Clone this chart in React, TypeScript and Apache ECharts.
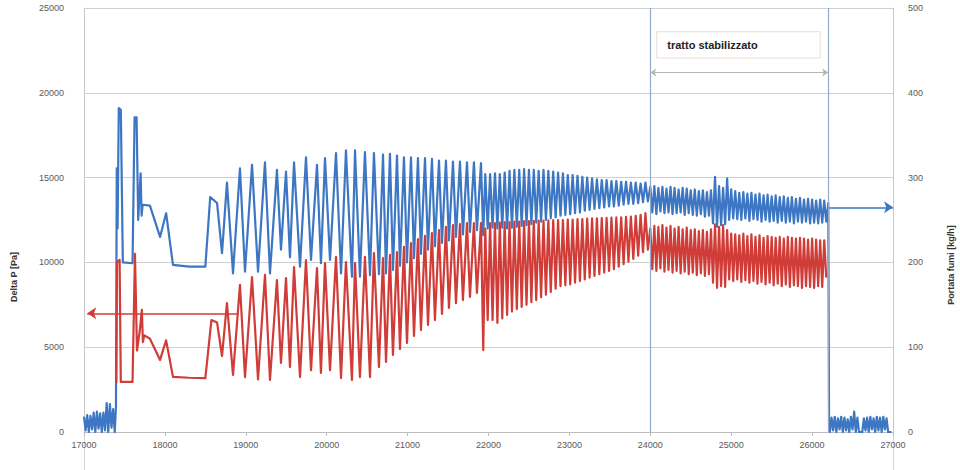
import React, { useEffect, useRef } from "react";
import * as echarts from "echarts";

// x = time index, left axis = Delta P [Pa], right axis = Portata fumi [kg/h]
const xMin = 17000;
const xMax = 27000;
const xStep = 1000;
const dpMax = 25000;
const dpStep = 5000;
const flowMax = 500;
const flowStep = 100;

const stableStart = 24000;
const stableEnd = 26200;
const stableLabel = "tratto stabilizzato";
const leftName = "Delta P [Pa]";
const rightName = "Portata fumi [kg/h]";

// ---- Portata fumi (blue, right axis) ----
const flowIdle: [number, number][] = [
  [17000, 18], [17020, 2], [17040, 20], [17060, 0], [17080, 19], [17100, 3],
  [17120, 23], [17140, 0], [17160, 24], [17180, 4], [17200, 22], [17220, 0],
  [17240, 23], [17260, 2], [17280, 34], [17300, 0], [17320, 33], [17340, 5],
  [17360, 27], [17380, 0], [17395, 30],
];

const flowStartup: [number, number][] = [
  [17405, 311], [17415, 240], [17430, 382], [17455, 380], [17480, 200],
  [17600, 199], [17625, 371], [17650, 371], [17670, 250], [17700, 305],
  [17712, 255], [17725, 268], [17815, 267], [17940, 230], [18015, 258],
  [18100, 197], [18300, 195], [18500, 195], [18560, 277], [18645, 270],
];

const flowSwing: [number, number][] = [
  [18706, 211], [18767, 294], [18842, 187], [18928, 311], [18990, 189],
  [19077, 315], [19151, 189], [19237, 318], [19299, 187], [19385, 309],
  [19435, 215], [19497, 307], [19546, 206], [19596, 318], [19670, 195],
  [19744, 324], [19806, 203], [19880, 315], [19929, 199], [19979, 323],
  [20041, 203], [20115, 329], [20177, 187], [20238, 332], [20312, 183],
  [20350, 332], [20411, 183], [20473, 330], [20535, 185], [20584, 329],
  [20646, 186], [20696, 327], [20733, 187], [20782, 328], [20819, 191],
  [20869, 326], [20906, 196], [20955, 324], [20992, 200], [21042, 324],
  [21079, 205], [21128, 323], [21165, 210], [21215, 323], [21252, 215],
  [21301, 322], [21338, 219], [21388, 320], [21425, 223], [21474, 320],
  [21511, 226], [21561, 319], [21598, 230], [21647, 319], [21684, 233],
  [21734, 318], [21771, 236], [21820, 318], [21857, 238], [21907, 317],
  [21935, 232], [21960, 304], [21990, 240],
];

const flowFast: [number, number][] = [
  [22020, 304], [22050, 241], [22080, 305], [22110, 240], [22140, 304],
  [22170, 241], [22200, 306], [22230, 240], [22260, 308], [22290, 241],
  [22320, 309], [22350, 242], [22380, 309], [22410, 243], [22440, 310],
  [22470, 244], [22500, 309], [22530, 245], [22560, 309], [22590, 247],
  [22620, 308], [22650, 248], [22680, 309], [22710, 250], [22740, 308],
  [22770, 252], [22800, 307], [22830, 253], [22860, 306], [22890, 255],
  [22920, 305], [22950, 256], [22980, 303], [23010, 257], [23040, 303],
  [23070, 258], [23100, 302], [23130, 259], [23160, 301], [23190, 261],
  [23220, 300], [23250, 262], [23280, 299], [23310, 263], [23340, 298],
  [23370, 264], [23400, 297], [23430, 265], [23460, 297], [23490, 266],
  [23520, 296], [23550, 266], [23580, 296], [23610, 267], [23640, 295],
  [23670, 268], [23700, 295], [23730, 269], [23760, 294], [23790, 269],
  [23820, 294], [23850, 270], [23880, 293], [23910, 271], [23940, 294],
  [23970, 272],
];

const flowStable: [number, number][] = [
  [24000, 289], [24025, 259], [24050, 290], [24075, 257], [24100, 288],
  [24125, 260], [24150, 289], [24175, 258], [24200, 287], [24225, 259],
  [24250, 289], [24275, 257], [24300, 288], [24325, 258], [24350, 286],
  [24375, 259], [24400, 288], [24425, 256], [24450, 287], [24475, 258],
  [24500, 285], [24525, 256], [24550, 286], [24575, 255], [24600, 284],
  [24625, 257], [24650, 285], [24675, 254], [24700, 283], [24725, 255],
  [24750, 285], [24775, 246], [24800, 301], [24825, 242], [24850, 290],
  [24875, 244], [24900, 288], [24925, 245], [24950, 299], [24975, 250],
  [25000, 286], [25025, 252], [25050, 284], [25075, 251], [25100, 282],
  [25125, 250], [25150, 283], [25175, 252], [25200, 281], [25225, 249],
  [25250, 282], [25275, 251], [25300, 280], [25325, 250], [25350, 281],
  [25375, 248], [25400, 279], [25425, 250], [25450, 280], [25475, 248],
  [25500, 278], [25525, 249], [25550, 279], [25575, 247], [25600, 277],
  [25625, 249], [25650, 278], [25675, 247], [25700, 276], [25725, 248],
  [25750, 277], [25775, 246], [25800, 275], [25825, 248], [25850, 276],
  [25875, 247], [25900, 274], [25925, 248], [25950, 275], [25975, 246],
  [26000, 274], [26025, 247], [26050, 273], [26075, 246], [26100, 274],
  [26125, 247], [26150, 273], [26175, 248], [26200, 270],
];

const flowShutdown: [number, number][] = [
  [26210, 2], [26220, 0], [26240, 17], [26260, 2], [26280, 18], [26300, 0],
  [26320, 16], [26340, 3], [26360, 18], [26380, 0], [26400, 17], [26420, 2],
  [26440, 15], [26460, 0], [26480, 18], [26500, 3], [26520, 24], [26540, 0],
  [26560, 17], [26580, 0], [26600, 0], [26620, 0], [26640, 16], [26660, 2],
  [26680, 17], [26700, 0], [26720, 18], [26740, 3], [26760, 16], [26780, 0],
  [26800, 18], [26820, 2], [26840, 17], [26860, 0], [26880, 18], [26900, 3],
  [26920, 16], [26940, 0], [26960, 0], [26980, 0],
];

// ---- Delta P (red, left axis) ----
const dpStartup: [number, number][] = [
  [17400, 2900], [17408, 10000], [17440, 10150], [17455, 2950], [17600, 2950],
  [17630, 10500], [17655, 4800], [17690, 6000], [17715, 7200], [17728, 5300],
  [17745, 5700], [17815, 5500], [17940, 4250], [18015, 5400], [18100, 3250],
  [18300, 3200], [18500, 3180], [18575, 6600], [18645, 6450],
];

const dpSwing: [number, number][] = [
  [18706, 4480], [18767, 7600], [18842, 3360], [18928, 8670], [18990, 3240],
  [19077, 9140], [19151, 3100], [19237, 9260], [19299, 3070], [19385, 8960],
  [19435, 4070], [19497, 9080], [19546, 3830], [19596, 9730], [19670, 3240],
  [19744, 10140], [19806, 3650], [19880, 9670], [19929, 3480], [19979, 9960],
  [20041, 3650], [20115, 10320], [20177, 3180], [20238, 10020], [20312, 3070],
  [20350, 9960], [20411, 3240], [20473, 10320], [20535, 3240], [20584, 10550],
  [20646, 3830], [20696, 10260], [20733, 4130], [20782, 10440], [20819, 4540],
  [20869, 10610], [20906, 4890], [20955, 10910], [20992, 5250], [21042, 11140],
  [21079, 5660], [21128, 11380], [21165, 6010], [21215, 11560], [21252, 6310],
  [21301, 11730], [21338, 6600], [21388, 11910], [21425, 6960], [21474, 12090],
  [21511, 7310], [21561, 12200], [21598, 7600], [21647, 12260], [21684, 7780],
  [21734, 12320], [21771, 7960], [21820, 12320], [21857, 8200], [21907, 12320],
  [21935, 4830], [21960, 12000], [21990, 6600],
];

const dpFast: [number, number][] = [
  [22020, 12320], [22050, 6600], [22080, 12320], [22110, 6430], [22140, 12350],
  [22170, 6700], [22200, 12380], [22230, 6900], [22260, 12380], [22290, 7100],
  [22320, 12400], [22350, 7250], [22380, 12410], [22410, 7370], [22440, 12430],
  [22470, 7500], [22500, 12440], [22530, 7650], [22560, 12450], [22590, 7780],
  [22620, 12460], [22650, 7950], [22680, 12470], [22710, 8100], [22740, 12480],
  [22770, 8250], [22800, 12490], [22830, 8450], [22860, 12500], [22890, 8600],
  [22920, 12500], [22950, 8650], [22980, 12520], [23010, 8700], [23040, 12530],
  [23070, 8800], [23100, 12550], [23130, 8900], [23160, 12560], [23190, 9000],
  [23220, 12580], [23250, 9100], [23280, 12590], [23310, 9200], [23340, 12600],
  [23370, 9300], [23400, 12610], [23430, 9400], [23460, 12630], [23490, 9500],
  [23520, 12640], [23550, 9600], [23580, 12650], [23610, 9750], [23640, 12660],
  [23670, 9900], [23700, 12680], [23730, 10050], [23760, 12700], [23790, 10200],
  [23820, 12750], [23850, 10400], [23880, 12800], [23910, 10600], [23940, 12900],
  [23970, 10750],
];

const dpStable: [number, number][] = [
  [24000, 12000], [24025, 9600], [24050, 12150], [24075, 9500], [24100, 12100],
  [24125, 9650], [24150, 12200], [24175, 9450], [24200, 12050], [24225, 9550],
  [24250, 12150], [24275, 9400], [24300, 12000], [24325, 9500], [24350, 12100],
  [24375, 9350], [24400, 11950], [24425, 9450], [24450, 12050], [24475, 9300],
  [24500, 11900], [24525, 9400], [24550, 11950], [24575, 9250], [24600, 11850],
  [24625, 9350], [24650, 11900], [24675, 9200], [24700, 11800], [24725, 9300],
  [24750, 11950], [24775, 8800], [24800, 12250], [24825, 8500], [24850, 12100],
  [24875, 8600], [24900, 12200], [24925, 8550], [24950, 11900], [24975, 9000],
  [25000, 11700], [25025, 8900], [25050, 11650], [25075, 9000], [25100, 11600],
  [25125, 8850], [25150, 11700], [25175, 8950], [25200, 11550], [25225, 8800],
  [25250, 11650], [25275, 8900], [25300, 11500], [25325, 8750], [25350, 11600],
  [25375, 8850], [25400, 11450], [25425, 8700], [25450, 11550], [25475, 8800],
  [25500, 11500], [25525, 8650], [25550, 11450], [25575, 8750], [25600, 11500],
  [25625, 8600], [25650, 11400], [25675, 8700], [25700, 11500], [25725, 8550],
  [25750, 11450], [25775, 8650], [25800, 11400], [25825, 8600], [25850, 11450],
  [25875, 8500], [25900, 11400], [25925, 8600], [25950, 11350], [25975, 8550],
  [26000, 11400], [26025, 8500], [26050, 11350], [26075, 8600], [26100, 11300],
  [26125, 8550], [26150, 11300], [26175, 9100],
];

// arrows pointing each series to its axis
const dpArrowLevel = 7000;
const dpArrowFrom = 17040;
const dpArrowTo = 18900;
const flowArrowLevel = 265;
const spanArrowLevel = 21200;
const labelBox: [number, number, number, number] = [24080, 23600, 26100, 22050];

const BLUE = "#3d77c3";
const RED = "#d03c37";
const GRID = "#cfcfcf";
const LABEL = "#5a5a5a";
const FONT = "'Liberation Sans', Arial, sans-serif";

const App = () => {
  const chartRef = useRef<HTMLDivElement>(null);

  useEffect(() => {
    if (!chartRef.current) return;
    const chart = echarts.init(chartRef.current, undefined, { renderer: "svg" });

    const axisLabel = {
      color: LABEL,
      fontSize: 9,
      fontFamily: FONT,
      formatter: (v: number) => String(v),
    };

    const guide = { color: "#93aacb", width: 1.2, type: "solid" };

    chart.setOption({
      animation: false,
      backgroundColor: "#ffffff",
      grid: { left: 84, right: 67, top: 8, bottom: 38 },
      xAxis: {
        type: "value",
        min: xMin,
        max: xMax,
        interval: xStep,
        axisLine: { show: true, lineStyle: { color: "#bdbdbd" } },
        axisTick: { show: true, length: 4, lineStyle: { color: "#bdbdbd" } },
        axisLabel: { ...axisLabel, margin: 8 },
        splitLine: { show: false },
      },
      yAxis: [
        {
          type: "value",
          min: 0,
          max: dpMax,
          interval: dpStep,
          axisLine: { show: true, lineStyle: { color: "#c8c8c8" } },
          axisTick: { show: false },
          axisLabel: { ...axisLabel, margin: 20 },
          splitLine: { show: true, lineStyle: { color: GRID } },
        },
        {
          type: "value",
          min: 0,
          max: flowMax,
          interval: flowStep,
          position: "right",
          axisLine: { show: true, lineStyle: { color: "#c8c8c8" } },
          axisTick: { show: false },
          axisLabel: { ...axisLabel, margin: 15 },
          splitLine: { show: false },
        },
      ],
      graphic: [
        {
          type: "text",
          x: 14,
          y: 277,
          rotation: Math.PI / 2,
          style: {
            text: leftName,
            font: `bold 9px ${FONT}`,
            fill: "#333",
            align: "center",
            verticalAlign: "middle",
          },
        },
        {
          type: "text",
          x: 951,
          y: 265,
          rotation: Math.PI / 2,
          style: {
            text: rightName,
            font: `bold 9px ${FONT}`,
            fill: "#333",
            align: "center",
            verticalAlign: "middle",
          },
        },
        {
          type: "line",
          shape: { x1: 84.5, y1: 432, x2: 84.5, y2: 470 },
          style: { stroke: "#d6d6d6", lineWidth: 1 },
        },
        {
          type: "line",
          shape: { x1: 893.5, y1: 432, x2: 893.5, y2: 470 },
          style: { stroke: "#d6d6d6", lineWidth: 1 },
        },
      ],
      series: [
        {
          name: rightName,
          type: "line",
          yAxisIndex: 1,
          showSymbol: false,
          symbol: "none",
          lineStyle: { color: BLUE, width: 2.2, join: "round" },
          itemStyle: { color: BLUE },
          z: 2,
          data: [
            ...flowIdle,
            ...flowStartup,
            ...flowSwing,
            ...flowFast,
            ...flowStable,
            ...flowShutdown,
          ],
          markLine: {
            silent: true,
            symbol: ["none", "arrow"],
            symbolSize: 9,
            label: { show: false },
            lineStyle: { color: BLUE, width: 1.6, type: "solid" },
            data: [
              [
                { coord: [stableEnd, flowArrowLevel] },
                { coord: [xMax, flowArrowLevel] },
              ],
            ],
          },
        },
        {
          name: leftName,
          type: "line",
          yAxisIndex: 0,
          showSymbol: false,
          symbol: "none",
          lineStyle: { color: RED, width: 2.2, join: "round" },
          itemStyle: { color: RED },
          z: 3,
          data: [...dpStartup, ...dpSwing, ...dpFast, ...dpStable],
          markLine: {
            silent: true,
            symbol: ["none", "none"],
            label: { show: false },
            data: [
              [
                { coord: [stableStart, 0], symbol: "none", lineStyle: guide },
                { coord: [stableStart, dpMax], symbol: "none" },
              ],
              [
                { coord: [stableEnd, 0], symbol: "none", lineStyle: guide },
                { coord: [stableEnd, dpMax], symbol: "none" },
              ],
              [
                {
                  coord: [stableStart, spanArrowLevel],
                  symbol: "arrow",
                  symbolSize: 6,
                  lineStyle: { color: "#b5b5b5", width: 1, type: "solid" },
                },
                { coord: [stableEnd, spanArrowLevel], symbol: "arrow", symbolSize: 6 },
              ],
              [
                {
                  coord: [dpArrowFrom, dpArrowLevel],
                  symbol: "arrow",
                  symbolSize: 9,
                  lineStyle: { color: RED, width: 1.6, type: "solid" },
                },
                { coord: [dpArrowTo, dpArrowLevel], symbol: "none" },
              ],
            ],
          },
          markArea: {
            silent: true,
            itemStyle: { color: "#ffffff", borderColor: "#e8ddd3", borderWidth: 1 },
            label: {
              show: true,
              position: "insideLeft",
              offset: [6, 0],
              color: "#222",
              fontSize: 11,
              fontWeight: "bold",
              fontFamily: FONT,
            },
            data: [
              [
                { name: stableLabel, coord: [labelBox[0], labelBox[1]] },
                { coord: [labelBox[2], labelBox[3]] },
              ],
            ],
          },
        },
      ],
    });

    return () => {
      chart.dispose();
    };
  }, []);

  return (
    <div
      ref={chartRef}
      style={{ position: "fixed", left: 0, top: 0, width: "960px", height: "470px", background: "#fff" }}
    />
  );
};

export default App;
